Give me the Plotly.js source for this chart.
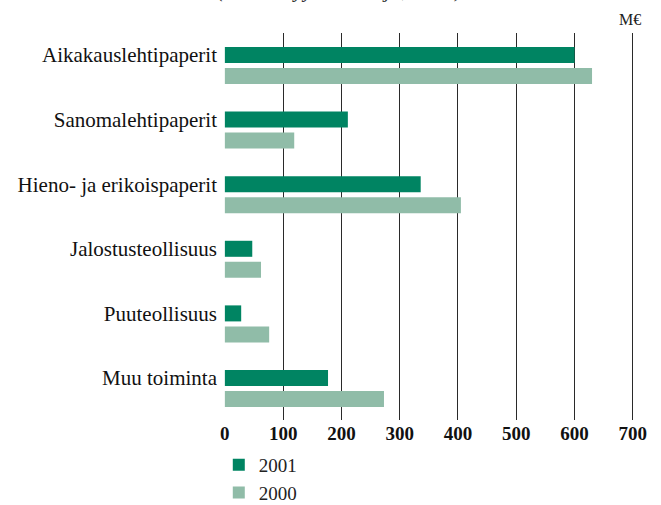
<!DOCTYPE html>
<html>
<head>
<meta charset="utf-8">
<script src="https://cdn.plot.ly/plotly-3.0.1.min.js"></script>
<style>html,body{margin:0;padding:0;background:#fff;}#chart{width:661px;height:505px;}</style>
</head>
<body>
<div id="chart"></div>
<script>
const categories = ["Aikakauslehtipaperit", "Sanomalehtipaperit", "Hieno- ja erikoispaperit", "Jalostusteollisuus", "Puuteollisuus", "Muu toiminta"];
const values2001 = [600, 211, 336, 47, 28, 177];
const values2000 = [630, 119, 405, 62, 76, 273];
const seriesNames = ["2001", "2000"];
const xTicks = [0, 100, 200, 300, 400, 500, 600, 700];

const serif = "Liberation Serif";
const barW = 0.248;

const traces = [
  {
    type: "bar", orientation: "h", name: seriesNames[0],
    x: values2001, y: categories,
    width: barW, offset: -barW / 2,
    marker: {color: "#008462"}, hoverinfo: "x"
  },
  {
    type: "bar", orientation: "h", name: seriesNames[1],
    x: values2000, y: categories,
    width: barW, offset: -barW / 2 + 0.325,
    marker: {color: "#90bca8"}, hoverinfo: "x"
  }
];

const layout = {
  width: 661, height: 505,
  margin: {l: 224, r: 27, t: 33, b: 85, autoexpand: false},
  paper_bgcolor: "#fff", plot_bgcolor: "#fff",
  barmode: "overlay",
  showlegend: true,
  legend: {
    xref: "container", yref: "container",
    x: 0.331, xanchor: "left", y: 0.117, yanchor: "top",
    orientation: "v", traceorder: "normal", tracegroupgap: 0,
    font: {family: serif, size: 19, color: "#222"},
    bgcolor: "rgba(0,0,0,0)"
  },
  xaxis: {
    range: [-1.5, 702], tickvals: xTicks, ticktext: xTicks.map(String),
    showgrid: true, gridcolor: "#2a2a2a", gridwidth: 1,
    zeroline: false, showline: false, ticks: "",
    ticklabelstandoff: 0,
    tickfont: {family: serif, size: 19, color: "#111", weight: "bold"},
    fixedrange: true
  },
  yaxis: {
    type: "category", categoryorder: "array", categoryarray: categories,
    range: [5.65, -0.34],
    showgrid: false, zeroline: false, showline: false, ticks: "",
    ticklabelstandoff: 6,
    tickfont: {family: serif, size: 21, color: "#111"},
    fixedrange: true
  },
  annotations: [
    {
      text: "<i>(ilman myyntivoittoja, netto)</i>", xref: "paper", yref: "paper",
      x: 0.282, y: 1.0, yanchor: "bottom", xanchor: "center",
      yshift: 29, showarrow: false,
      font: {family: serif, size: 21.5, color: "#333"}
    },
    {
      text: "M€", xref: "paper", yref: "paper",
      x: 0.99, y: 1.0, xanchor: "center", yanchor: "bottom", yshift: 3,
      showarrow: false,
      font: {family: serif, size: 16, color: "#222"}
    }
  ]
};

Plotly.newPlot("chart", traces, layout, {displayModeBar: false, staticPlot: true});
</script>
</body>
</html>
